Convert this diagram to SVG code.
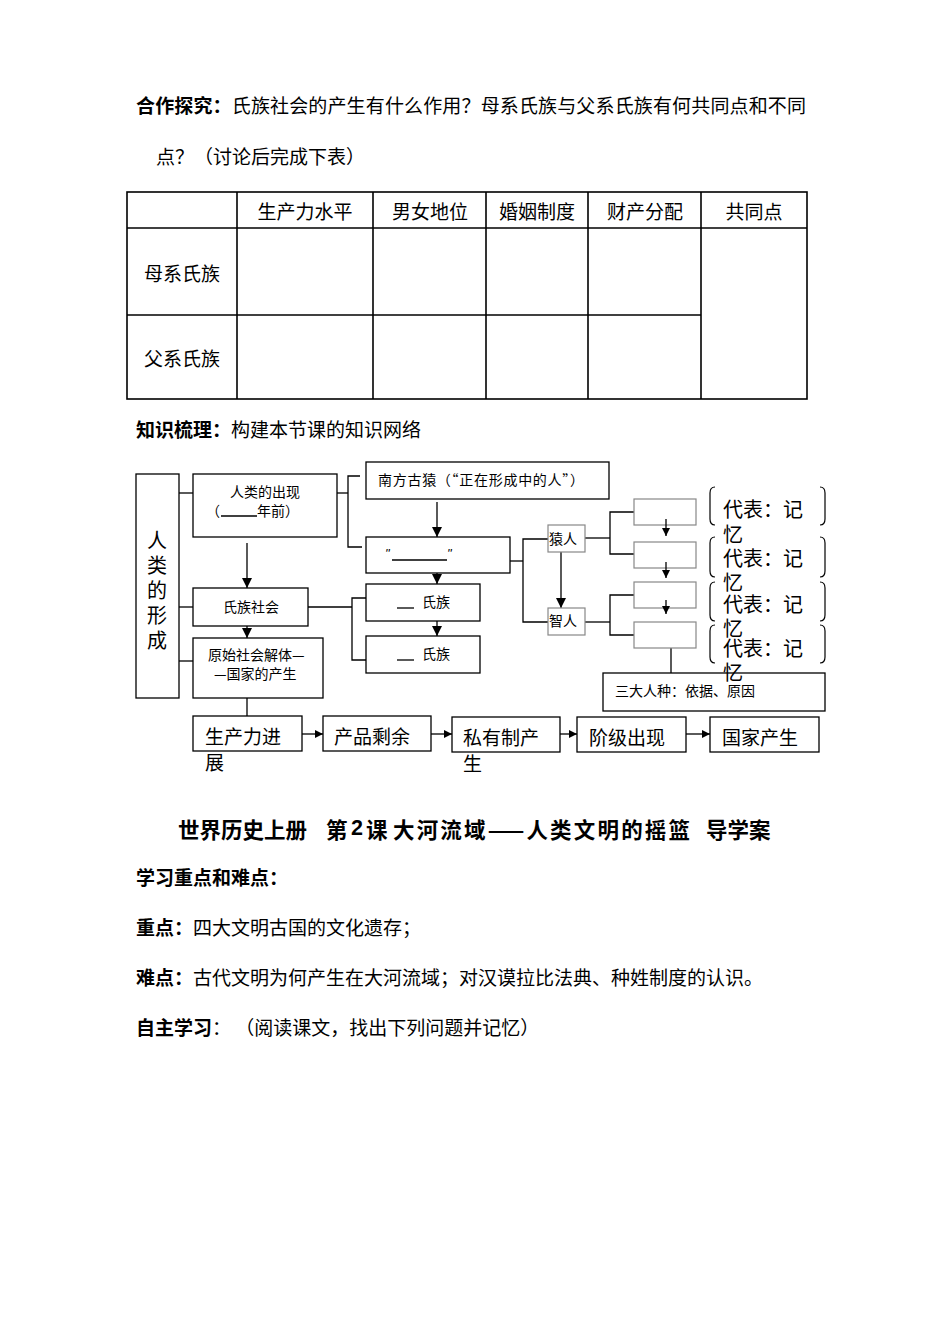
<svg xmlns="http://www.w3.org/2000/svg" width="950" height="1344" viewBox="0 0 950 1344">
<defs>
<style>
text{font-family:"Noto Sans CJK SC","Noto Sans",sans-serif;fill:#000;dominant-baseline:central}
.b{font-weight:bold}
.t19{font-size:19px}
.t14{font-size:14px}
.t20{font-size:20px}
.tt{font-size:21.5px;font-weight:bold}
.box{fill:#fff;stroke:#000;stroke-width:1.3}
.gbox{fill:#fff;stroke:#888;stroke-width:1.2}
.ln{fill:none;stroke:#000;stroke-width:1.3}
.tb{fill:none;stroke:#000;stroke-width:1.6}
.br{fill:none;stroke:#000;stroke-width:1.2}
</style>
<marker id="ah" markerUnits="userSpaceOnUse" markerWidth="10" markerHeight="10" viewBox="0 0 10 10" refX="10" refY="5" orient="auto">
<path d="M0,0 L10,5 L0,10 Z" fill="#000"/>
</marker>
<marker id="ahs" markerUnits="userSpaceOnUse" markerWidth="8" markerHeight="8" viewBox="0 0 10 10" refX="10" refY="5" orient="auto">
<path d="M0,0 L10,5 L0,10 Z" fill="#000"/>
</marker>
</defs>
<rect x="0" y="0" width="950" height="1344" fill="#fff"/>

<g id="intro">
<text class="t19" x="136" y="104" textLength="670" lengthAdjust="spacing"><tspan class="b">合作探究：</tspan>氏族社会的产生有什么作用？母系氏族与父系氏族有何共同点和不同</text>
<text class="t19" x="156" y="155">点？（讨论后完成下表）</text>
</g>

<g id="table">
<rect class="tb" x="127" y="192" width="680" height="207"/>
<line class="tb" x1="127" y1="228" x2="807" y2="228"/>
<line class="tb" x1="127" y1="315" x2="701" y2="315"/>
<line class="tb" x1="237" y1="192" x2="237" y2="399"/>
<line class="tb" x1="373" y1="192" x2="373" y2="399"/>
<line class="tb" x1="486" y1="192" x2="486" y2="399"/>
<line class="tb" x1="588" y1="192" x2="588" y2="399"/>
<line class="tb" x1="701" y1="192" x2="701" y2="399"/>
<g class="t19" text-anchor="middle">
<text x="305" y="210">生产力水平</text>
<text x="430" y="210">男女地位</text>
<text x="537" y="210">婚姻制度</text>
<text x="645" y="210">财产分配</text>
<text x="754" y="210">共同点</text>
<text x="182" y="272">母系氏族</text>
<text x="182" y="357">父系氏族</text>
</g>
</g>

<g id="heading-knowledge">
<text class="t19" x="136" y="428"><tspan class="b">知识梳理：</tspan>构建本节课的知识网络</text>
</g>

<g id="connectors">
<line class="ln" x1="179" y1="493" x2="193" y2="493"/>
<line class="ln" x1="179" y1="607" x2="193" y2="607"/>
<line class="ln" x1="179" y1="661" x2="193" y2="661"/>
<line class="ln" x1="247" y1="543" x2="247" y2="588" marker-end="url(#ah)"/>
<line class="ln" x1="247" y1="626" x2="247" y2="638" marker-end="url(#ah)"/>
<line class="ln" x1="247" y1="698" x2="247" y2="716"/>
<polyline class="ln" points="337,493 348,493"/>
<polyline class="ln" points="360,476 348,476 348,547 362,547"/>
<line class="ln" x1="437" y1="502" x2="437" y2="537" marker-end="url(#ah)"/>
<line class="ln" x1="437" y1="573" x2="437" y2="584" marker-end="url(#ah)"/>
<line class="ln" x1="437" y1="621" x2="437" y2="636" marker-end="url(#ah)"/>
<line class="ln" x1="308" y1="607" x2="352" y2="607"/>
<polyline class="ln" points="366,598 352,598 352,660 366,660"/>
<line class="ln" x1="510" y1="561" x2="523" y2="561"/>
<polyline class="ln" points="548,539 523,539 523,622 548,622"/>
<line class="ln" x1="561" y1="552" x2="561" y2="608" marker-end="url(#ah)"/>
<line class="ln" x1="585" y1="538" x2="610" y2="538"/>
<polyline class="ln" points="634,512 610,512 610,554 634,554"/>
<line class="ln" x1="585" y1="622" x2="610" y2="622"/>
<polyline class="ln" points="634,595 610,595 610,635 634,635"/>
<line class="ln" x1="671" y1="648" x2="671" y2="673"/>
<line class="ln" x1="302" y1="734" x2="323" y2="734" marker-end="url(#ahs)"/>
<line class="ln" x1="431" y1="734" x2="452" y2="734" marker-end="url(#ahs)"/>
<line class="ln" x1="560" y1="734" x2="577" y2="734" marker-end="url(#ahs)"/>
<line class="ln" x1="686" y1="734" x2="710" y2="734" marker-end="url(#ahs)"/>
</g>

<g id="n-formation">
<rect class="box" x="136" y="474" width="43" height="224"/>
<g class="t20" text-anchor="middle">
<text x="157" y="539">人</text>
<text x="157" y="564">类</text>
<text x="157" y="589">的</text>
<text x="157" y="614">形</text>
<text x="157" y="639">成</text>
</g>
</g>
<g id="n-appear">
<rect class="box" x="193" y="474" width="144" height="63"/>
<text class="t14" x="265" y="491" text-anchor="middle">人类的出现</text>
<text class="t14" x="206" y="510">（</text>
<line class="ln" x1="221" y1="516" x2="257" y2="516" stroke-width="1"/>
<text class="t14" x="257" y="510">年前）</text>
</g>
<g id="n-clan">
<rect class="box" x="193" y="588" width="115" height="38"/>
<text class="t14" x="251" y="606" text-anchor="middle">氏族社会</text>
</g>
<g id="n-dissolve">
<rect class="box" x="193" y="638" width="130" height="60"/>
<text class="t14" x="208" y="654">原始社会解体—</text>
<text class="t14" x="214" y="673">—国家的产生</text>
</g>
<g id="n-australopith">
<rect class="box" x="366" y="462" width="243" height="37"/>
<text class="t14" x="378" y="479" textLength="206" lengthAdjust="spacing">南方古猿（“正在形成中的人”）</text>
</g>
<g id="n-quote">
<rect class="box" x="366" y="537" width="144" height="36"/>
<text x="385" y="553" style="font-family:'Liberation Sans',sans-serif;font-size:13px;font-style:italic">"</text>
<line class="ln" x1="392" y1="560" x2="447" y2="560" stroke-width="1"/>
<text x="447" y="553" style="font-family:'Liberation Sans',sans-serif;font-size:13px;font-style:italic">"</text>
</g>
<g id="n-clan1">
<rect class="box" x="366" y="584" width="114" height="37"/>
<line class="ln" x1="397" y1="608" x2="414" y2="608" stroke-width="1"/>
<text class="t14" x="422" y="601">氏族</text>
</g>
<g id="n-clan2">
<rect class="box" x="366" y="636" width="114" height="37"/>
<line class="ln" x1="397" y1="660" x2="414" y2="660" stroke-width="1"/>
<text class="t14" x="422" y="653">氏族</text>
</g>
<g id="n-apeman">
<rect class="gbox" x="548" y="525" width="37" height="27"/>
<text class="t14" x="549" y="538">猿人</text>
</g>
<g id="n-sapiens">
<rect class="gbox" x="548" y="608" width="37" height="27"/>
<text class="t14" x="549" y="620">智人</text>
</g>
<g id="n-r1"><rect class="gbox" x="634" y="499" width="62" height="26"/></g>
<g id="n-r2"><rect class="gbox" x="634" y="542" width="62" height="26"/></g>
<g id="n-r3"><rect class="gbox" x="634" y="582" width="62" height="26"/></g>
<g id="n-r4"><rect class="gbox" x="634" y="622" width="62" height="26"/></g>
<g id="small-arrows">
<line class="ln" x1="666" y1="519" x2="666" y2="536" marker-end="url(#ahs)"/>
<line class="ln" x1="666" y1="562" x2="666" y2="578" marker-end="url(#ahs)"/>
<line class="ln" x1="666" y1="600" x2="666" y2="614" marker-end="url(#ahs)"/>
</g>
<g id="n-races">
<rect class="box" x="603" y="673" width="222" height="38"/>
<text class="t14" x="615" y="690">三大人种：依据、原因</text>
</g>
<g id="n-rep1">
<path class="br" d="M715,487 Q710,487 710,493 L710,519 Q710,525 715,525 M820,487 Q825,487 825,493 L825,519 Q825,525 820,525"/>
<text class="t20" x="723" y="508">代表：记</text>
<text class="t20" x="723" y="533">忆</text>
</g>
<g id="n-rep2">
<path class="br" d="M715,537 Q710,537 710,543 L710,571 Q710,577 715,577 M820,537 Q825,537 825,543 L825,571 Q825,577 820,577"/>
<text class="t20" x="723" y="557">代表：记</text>
<text class="t20" x="723" y="581">忆</text>
</g>
<g id="n-rep3">
<path class="br" d="M715,582 Q710,582 710,588 L710,615 Q710,621 715,621 M820,582 Q825,582 825,588 L825,615 Q825,621 820,621"/>
<text class="t20" x="723" y="603">代表：记</text>
<text class="t20" x="723" y="627">忆</text>
</g>
<g id="n-rep4">
<path class="br" d="M715,625 Q710,625 710,631 L710,657 Q710,663 715,663 M820,625 Q825,625 825,631 L825,657 Q825,663 820,663"/>
<text class="t20" x="723" y="647">代表：记</text>
<text class="t20" x="723" y="671">忆</text>
</g>

<g id="f1">
<rect class="box" x="193" y="716" width="109" height="35"/>
<text class="t19" x="205" y="735">生产力进</text>
<text class="t19" x="205" y="761">展</text>
</g>
<g id="f2">
<rect class="box" x="323" y="716" width="108" height="35"/>
<text class="t19" x="334" y="735">产品剩余</text>
</g>
<g id="f3">
<rect class="box" x="452" y="717" width="108" height="35"/>
<text class="t19" x="463" y="736">私有制产</text>
<text class="t19" x="463" y="762">生</text>
</g>
<g id="f4">
<rect class="box" x="577" y="717" width="109" height="35"/>
<text class="t19" x="589" y="736">阶级出现</text>
</g>
<g id="f5">
<rect class="box" x="710" y="717" width="109" height="35"/>
<text class="t19" x="722" y="736">国家产生</text>
</g>

<g id="lesson2">
<text class="tt" y="828"><tspan x="178">世界历史上册</tspan><tspan x="326">第</tspan><tspan x="351" style="font-family:'Liberation Sans',sans-serif">2</tspan><tspan x="366">课</tspan></text>
<text class="tt" x="393" y="828" textLength="297" lengthAdjust="spacing">大河流域——人类文明的摇篮</text>
<text class="tt" x="706" y="828">导学案</text>
<text class="t19 b" x="136" y="876">学习重点和难点：</text>
<text class="t19" x="136" y="926"><tspan class="b">重点：</tspan>四大文明古国的文化遗存；</text>
<text class="t19" x="136" y="976"><tspan class="b">难点：</tspan>古代文明为何产生在大河流域；对汉谟拉比法典、种姓制度的认识。</text>
<text class="t19" x="136" y="1026"><tspan class="b">自主学习</tspan>：  （阅读课文，找出下列问题并记忆）</text>
</g>
</svg>
